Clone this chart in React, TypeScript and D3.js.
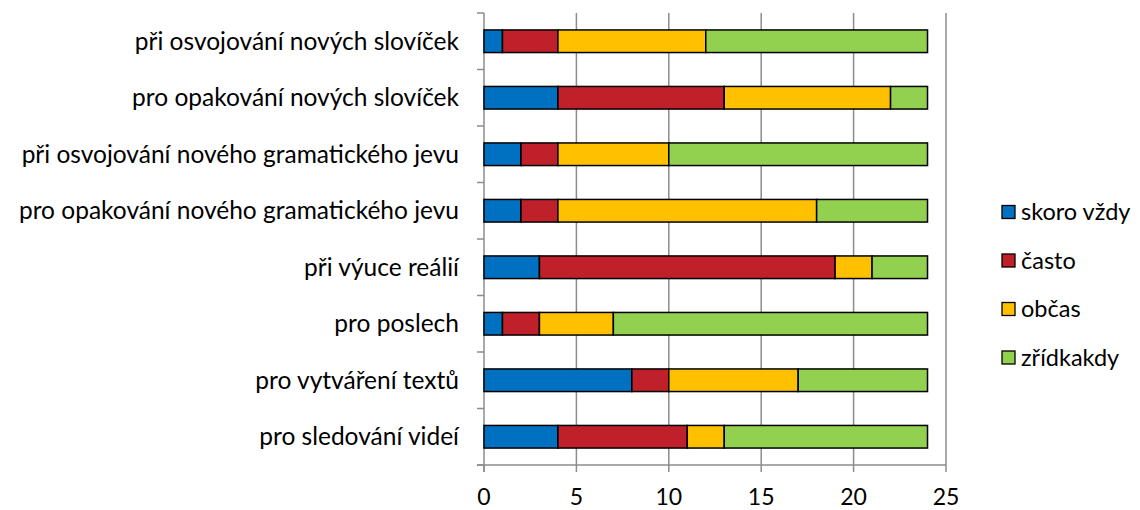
import React from "react";
import * as d3 from "d3";

const categories = [
  "při osvojování nových slovíček",
  "pro opakování nových slovíček",
  "při osvojování nového gramatického jevu",
  "pro opakování nového gramatického jevu",
  "při výuce reálií",
  "pro poslech",
  "pro vytváření textů",
  "pro sledování videí",
];
const seriesNames = ["skoro vždy", "často", "občas", "zřídkakdy"];
const skoroVzdy = [1, 4, 2, 2, 3, 1, 8, 4];
const casto = [3, 9, 2, 2, 16, 2, 2, 7];
const obcas = [8, 9, 6, 14, 2, 4, 7, 2];
const zridkakdy = [12, 2, 14, 6, 3, 17, 7, 11];
const colors = ["#0070C0", "#C0202A", "#FFC000", "#92D050"];
const xTicks = [0, 5, 10, 15, 20, 25];

const FONT = "Lato, 'Open Sans', sans-serif";

export default function App() {
  const W = 1140, H = 510;
  const left = 484, right = 946, top = 13, bottom = 465;
  const x = d3.scaleLinear().domain([0, 25]).range([left, right]);
  const y = d3.scaleBand<string>().domain(categories).range([top, bottom]).paddingInner(0.6).paddingOuter(0.3);
  const band = d3.scaleBand<string>().domain(categories).range([top, bottom]);
  const rows = categories.map((c, i) => ({ c, vals: [skoroVzdy[i], casto[i], obcas[i], zridkakdy[i]] }));
  const stack = d3.stack<any>().keys(["0", "1", "2", "3"]).value((d: any, k: string) => d.vals[+k]);
  const stacked = stack(rows as any);

  return (
    <svg width={W} height={H} style={{ position: "absolute", left: 0, top: 0, background: "#fff" }} fontFamily={FONT}>
      {xTicks.slice(1).map((t) => (
        <line key={t} x1={x(t)} x2={x(t)} y1={top} y2={bottom} stroke="#8c8c8c" strokeWidth={1.5} />
      ))}
      <line x1={left} x2={left} y1={top} y2={bottom + 7} stroke="#8c8c8c" strokeWidth={1.5} />
      {d3.range(categories.length + 1).map((i) => {
        const yy = i < categories.length ? band(categories[i])! : bottom;
        return <line key={i} x1={left - 7} x2={left} y1={yy} y2={yy} stroke="#8c8c8c" strokeWidth={1.5} />;
      })}
      <line x1={left - 7} x2={right} y1={bottom} y2={bottom} stroke="#8c8c8c" strokeWidth={1.5} />
      {xTicks.map((t) => (
        <g key={t}>
          <line x1={x(t)} x2={x(t)} y1={bottom} y2={bottom + 7} stroke="#8c8c8c" strokeWidth={1.5} />
          <text x={x(t)} y={505} textAnchor="middle" fontSize={23} fill="#000">{t}</text>
        </g>
      ))}
      {stacked.map((s, si) => (
        <g key={si}>
          {s.map((d: any, i: number) => (
            <rect key={i} x={x(d[0])} y={y(categories[i])} width={x(d[1]) - x(d[0])} height={y.bandwidth()}
              fill={colors[si]} stroke="#000" strokeWidth={1.5} />
          ))}
        </g>
      ))}
      {categories.map((c) => (
        <text key={c} x={459} y={y(c)! + y.bandwidth() / 2} dy="0.35em" textAnchor="end" fontSize={24.5} fill="#000">{c}</text>
      ))}
      {seriesNames.map((n, i) => {
        const cy = 212 + i * 48.5;
        return (
          <g key={n}>
            <rect x={1002} y={cy - 6.5} width={13} height={13} fill={colors[i]} stroke="#000" strokeWidth={1.3} />
            <text x={1021} y={cy} dy="0.35em" fontSize={23.5} fill="#000">{n}</text>
          </g>
        );
      })}
    </svg>
  );
}
